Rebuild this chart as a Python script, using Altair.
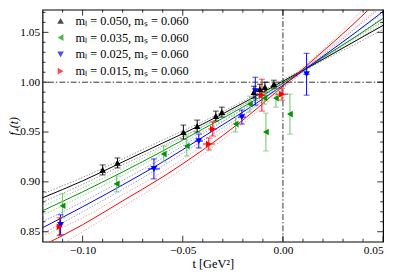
import altair as alt
import pandas as pd

# ---------------- data ----------------
ml_values = ["0.050", "0.035", "0.025", "0.015"]
ms_value = "0.060"
labels = [f"m\u2097 = {m},  m\u209b = {ms_value}" for m in ml_values]
colors = ["#000000", "#009600", "#0000ff", "#ff0000"]
err_colors = ["#000000", "#6cc06c", "#0000ff", "#ff0000"]
band_colors = ["#8c8c8c", "#8fd08f", "#8c8cff", "#ff9c9c"]
shapes = ["triangle-up", "triangle-left", "triangle-down", "triangle-right"]

# data points: t, f+, error in f, error in t
t_050 = [-0.090, -0.0826, -0.0497, -0.0428, -0.0335, -0.0305, -0.0145, -0.0115, -0.0090, -0.0045]
f_050 = [0.912, 0.919, 0.950, 0.956, 0.966, 0.970, 0.990, 0.993, 0.995, 0.998]
fe_050 = [0.005, 0.005, 0.007, 0.006, 0.005, 0.005, 0.006, 0.005, 0.005, 0.004]
te_050 = [0.0008, 0.0008, 0.0008, 0.0008, 0.0008, 0.0008, 0.0008, 0.0008, 0.0008, 0.0008]

t_035 = [-0.110, -0.083, -0.0595, -0.048, -0.0236, -0.0165, -0.0092, -0.0035, -0.0085, 0.0035]
f_035 = [0.876, 0.898, 0.928, 0.936, 0.958, 0.978, 0.984, 0.984, 0.950, 0.968]
fe_035 = [0.012, 0.008, 0.008, 0.010, 0.008, 0.008, 0.006, 0.009, 0.019, 0.020]
te_035 = [0.001, 0.001, 0.001, 0.001, 0.001, 0.001, 0.001, 0.001, 0.001, 0.001]

t_025 = [-0.111, -0.0644, -0.042, -0.0205, -0.0138, 0.0118]
f_025 = [0.857, 0.913, 0.941, 0.965, 0.991, 1.008]
fe_025 = [0.010, 0.010, 0.007, 0.007, 0.014, 0.021]
te_025 = [0.001, 0.003, 0.002, 0.002, 0.001, 0.0015]

t_015 = [-0.1115, -0.037, -0.035, -0.0105, -0.0005]
f_015 = [0.855, 0.938, 0.953, 0.987, 0.988]
fe_015 = [0.009, 0.006, 0.007, 0.016, 0.006]
te_015 = [0.001, 0.003, 0.002, 0.002, 0.003]

# fit curves (centre, lower, upper) read at these t values
t_fit = [-0.12, -0.10, -0.08, -0.06, -0.04, -0.02, 0.0, 0.02, 0.035, 0.05]
fit_050 = [0.884, 0.901, 0.920, 0.939, 0.958, 0.979, 1.001, 1.023, 1.040, 1.057]
lo_050 = [0.880, 0.8975, 0.917, 0.936, 0.9555, 0.977, 0.9995, 1.0218, 1.037, 1.053]
hi_050 = [0.888, 0.9045, 0.923, 0.942, 0.9605, 0.981, 1.0025, 1.0242, 1.043, 1.061]
fit_035 = [0.871, 0.890, 0.910, 0.931, 0.953, 0.975, 0.999, 1.025, 1.044, 1.064]
lo_035 = [0.8665, 0.886, 0.9065, 0.928, 0.9503, 0.9728, 0.9975, 1.0237, 1.0405, 1.059]
hi_035 = [0.8755, 0.894, 0.9135, 0.934, 0.9557, 0.9772, 1.0005, 1.0263, 1.0475, 1.069]
fit_025 = [0.854, 0.875, 0.897, 0.920, 0.945, 0.970, 0.997, 1.026, 1.048, 1.071]
lo_025 = [0.848, 0.870, 0.8925, 0.916, 0.9415, 0.9672, 0.995, 1.0245, 1.044, 1.065]
hi_025 = [0.860, 0.880, 0.9015, 0.924, 0.9485, 0.9728, 0.999, 1.0275, 1.052, 1.077]
fit_015 = [0.836, 0.857, 0.881, 0.905, 0.932, 0.962, 0.996, 1.031, 1.058, 1.087]
lo_015 = [0.826, 0.850, 0.875, 0.900, 0.9275, 0.9585, 0.9935, 1.0292, 1.053, 1.079]
hi_015 = [0.846, 0.864, 0.887, 0.910, 0.9365, 0.9655, 0.9985, 1.0328, 1.063, 1.095]

x_major = [-0.10, -0.05, 0.0, 0.05]
x_minor = [-0.11, -0.09, -0.08, -0.07, -0.06, -0.04, -0.03, -0.02, -0.01, 0.01, 0.02, 0.03, 0.04]
y_major = [0.85, 0.90, 0.95, 1.00, 1.05]
y_minor = [0.86, 0.87, 0.88, 0.89, 0.91, 0.92, 0.93, 0.94, 0.96, 0.97, 0.98, 0.99,
           1.01, 1.02, 1.03, 1.04, 1.06, 1.07]

# ---------------- tables ----------------
pts_src = [(t_050, f_050, fe_050, te_050), (t_035, f_035, fe_035, te_035),
           (t_025, f_025, fe_025, te_025), (t_015, f_015, fe_015, te_015)]
rows = []
for i, (ts, fs, fes, tes) in enumerate(pts_src):
    for t, f, fe, te in zip(ts, fs, fes, tes):
        rows.append(dict(label=labels[i], order=i, t=t, f=f, flo=f - fe, fhi=f + fe,
                         tlo=t - te, thi=t + te, ecol=err_colors[i]))
pts = pd.DataFrame(rows)

fit_src = [(fit_050, lo_050, hi_050), (fit_035, lo_035, hi_035),
           (fit_025, lo_025, hi_025), (fit_015, lo_015, hi_015)]
lrows = []
for i, (c, lo, hi) in enumerate(fit_src):
    for kind, arr, col in (("lo", lo, band_colors[i]), ("hi", hi, band_colors[i]), ("c", c, colors[i])):
        for t, f in zip(t_fit, arr):
            lrows.append(dict(curve=f"{i}-{kind}", kind=kind, t=t, f=f, lcol=col))
lines = pd.DataFrame(lrows)

W, H = 345, 235
serif = "Liberation Serif, Times New Roman, Times, serif"
xs = alt.Scale(domain=[-0.12, 0.05], nice=False, zero=False)
ys = alt.Scale(domain=[0.84, 1.0727], nice=False, zero=False)
XT = "t  [GeV\u00b2]"
YT = "f\u208a(t)"
XAX = alt.Axis(values=x_major, format=".2f", ticks=False, domain=False, grid=False,
               labelFont=serif, labelFontSize=11.5, labelPadding=3, labelColor="black",
               titleFont=serif, titleFontSize=12.5, titleFontWeight="normal",
               titlePadding=2, titleColor="black")
YAX = alt.Axis(values=y_major, format=".2f", ticks=False, domain=False, grid=False,
               labelFont=serif, labelFontSize=11.5, labelPadding=3, labelColor="black",
               titleFont=serif, titleFontSize=12, titleFontWeight="normal",
               titleFontStyle="italic", titleColor="black",
               titleX=-22, titleY=H / 2, titleAngle=270, titleAlign="center",
               titleBaseline="bottom")


def X(field):
    return alt.X(field, scale=xs, title=XT, axis=XAX)


def Y(field):
    return alt.Y(field, scale=ys, title=YT, axis=YAX)


base_l = alt.Chart(lines)
band = base_l.transform_filter("datum.kind != 'c'").mark_line(
    strokeWidth=0.9, strokeDash=[1.5, 1.5], interpolate="monotone", clip=True
).encode(x=X("t:Q"), y=Y("f:Q"), detail="curve:N", color=alt.Color("lcol:N", scale=None))
centre = base_l.transform_filter("datum.kind == 'c'").mark_line(
    strokeWidth=1.0, interpolate="monotone", clip=True
).encode(x=X("t:Q"), y=Y("f:Q"), detail="curve:N", color=alt.Color("lcol:N", scale=None))

refx = alt.Chart(pd.DataFrame({"t": [0.0]})).mark_rule(
    color="black", strokeWidth=0.8, strokeDash=[6, 2, 1.5, 2]
).encode(x=X("t:Q"))
refy = alt.Chart(pd.DataFrame({"f": [1.0]})).mark_rule(
    color="black", strokeWidth=0.8, strokeDash=[6, 2, 1.5, 2]
).encode(y=Y("f:Q"))

base_p = alt.Chart(pts)
vbar = base_p.mark_rule(strokeWidth=1).encode(
    x=X("t:Q"), y=Y("flo:Q"), y2="fhi:Q", color=alt.Color("ecol:N", scale=None))
hbar = base_p.mark_rule(strokeWidth=1).encode(
    x=X("tlo:Q"), x2="thi:Q", y=Y("f:Q"), color=alt.Color("ecol:N", scale=None))
cap_lo = base_p.mark_tick(orient="horizontal", size=6, thickness=1).encode(
    x=X("t:Q"), y=Y("flo:Q"), color=alt.Color("ecol:N", scale=None))
cap_hi = base_p.mark_tick(orient="horizontal", size=6, thickness=1).encode(
    x=X("t:Q"), y=Y("fhi:Q"), color=alt.Color("ecol:N", scale=None))

leg = alt.Legend(
    title=None, orient="none", legendX=12, legendY=5, padding=0,
    labelFont=serif, labelFontSize=12.5, labelColor="black", labelOffset=9,
    symbolSize=45, symbolStrokeWidth=0, rowPadding=4,
)
points = base_p.mark_point(filled=True, size=45, opacity=1).encode(
    x=X("t:Q"), y=Y("f:Q"),
    color=alt.Color("label:N", scale=alt.Scale(domain=labels, range=colors), legend=leg),
    shape=alt.Shape("label:N", scale=alt.Scale(domain=labels, range=shapes), legend=leg),
)


# inward frame ticks
def xt(vals, y0, y1):
    return alt.Chart(pd.DataFrame({"t": vals})).mark_rule(color="black", strokeWidth=0.8).encode(
        x=X("t:Q"), y=alt.value(y0), y2=alt.value(y1))


def yt(vals, x0, x1):
    return alt.Chart(pd.DataFrame({"f": vals})).mark_rule(color="black", strokeWidth=0.8).encode(
        y=Y("f:Q"), x=alt.value(x0), x2=alt.value(x1))


ticks = [xt(x_major, H, H - 6), xt(x_minor, H, H - 3), xt(x_major, 0, 6), xt(x_minor, 0, 3),
         yt(y_major, 0, 6), yt(y_minor, 0, 3), yt(y_major, W, W - 6), yt(y_minor, W, W - 3)]

chart = alt.layer(
    band, centre, refx, refy, vbar, hbar, cap_lo, cap_hi, points, *ticks
).properties(
    width=W, height=H,
    autosize=alt.AutoSizeParams(type="none"),
    padding={"left": 35, "top": 0, "right": 8, "bottom": 32},
).configure_view(stroke="black", strokeWidth=1.2)

chart.save("out.html", embed_options={"renderer": "svg", "actions": False})
